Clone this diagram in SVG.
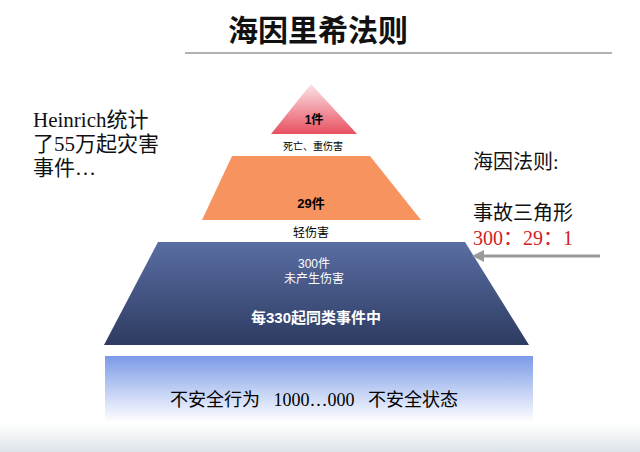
<svg xmlns="http://www.w3.org/2000/svg" width="640" height="452" viewBox="0 0 640 452">
<style>
.s{font-family:"Liberation Serif","Noto Sans CJK SC",serif}
.h{font-family:"Liberation Sans","Noto Sans CJK SC",sans-serif}
</style>
<defs>
<linearGradient id="gt" x1="0" y1="0" x2="0" y2="1"><stop offset="0" stop-color="#fbe4e8"/><stop offset="1" stop-color="#e8505f"/></linearGradient>
<linearGradient id="gb" x1="0" y1="0" x2="0" y2="1"><stop offset="0" stop-color="#5a6ea3"/><stop offset="1" stop-color="#2e3b62"/></linearGradient>
<linearGradient id="gf" x1="0" y1="0" x2="0" y2="1"><stop offset="0" stop-color="#7b9be8"/><stop offset="1" stop-color="#ffffff"/></linearGradient>
<linearGradient id="gfoot" x1="0" y1="0" x2="0" y2="1"><stop offset="0" stop-color="#ffffff"/><stop offset="1" stop-color="#dde3ea"/></linearGradient>
<marker id="ar" markerUnits="userSpaceOnUse" markerWidth="12" markerHeight="12" refX="2" refY="6" orient="auto"><path d="M0,0L12,6L0,12z" fill="#9a9a9a"/></marker>
</defs>
<rect width="640" height="452" fill="#fff"/>
<text x="318" y="41" text-anchor="middle" class="h" font-size="30" font-weight="bold" fill="#111">海因里希法则</text>
<line x1="185" y1="53" x2="612" y2="53" stroke="#999" stroke-width="1.5"/>
<g id="left" class="s" font-size="21" fill="#111"><text x="33" y="127">Heinrich统计</text><text x="33" y="151">了55万起灾害</text><text x="33" y="175">事件…</text></g>
<g id="right" class="s" font-size="20" fill="#111"><text x="473" y="169">海因法则:</text><text x="473" y="220">事故三角形</text><text x="473" y="245" fill="#d42020">300：29：1</text></g>
<g id="top"><path d="M311,84L357,134H271z" fill="url(#gt)"/><text x="314" y="124" text-anchor="middle" class="h" font-size="12" font-weight="bold">1件</text><text x="313" y="150" text-anchor="middle" class="s" font-size="10">死亡、重伤害</text></g>
<g id="mid"><path d="M232,156H370L421,220H202z" fill="#f7935f"/><text x="311" y="208" text-anchor="middle" class="h" font-size="13" font-weight="bold">29件</text><text x="311" y="237" text-anchor="middle" class="s" font-size="12">轻伤害</text></g>
<g id="base"><path d="M158,242H465L529,345H104z" fill="url(#gb)"/><text x="314" y="268" text-anchor="middle" class="h" font-size="12" fill="#fff">300件</text><text x="314" y="283" text-anchor="middle" class="h" font-size="12" fill="#fff">未产生伤害</text><text x="316" y="323" text-anchor="middle" class="h" font-size="15" font-weight="bold" fill="#fff">每330起同类事件中</text></g>
<g id="foundation"><rect x="105" y="356" width="428" height="66" fill="url(#gf)"/><text x="314" y="406" text-anchor="middle" class="s" font-size="18" xml:space="preserve">不安全行为   1000…000   不安全状态</text></g>
<rect x="0" y="424" width="640" height="28" fill="url(#gfoot)"/>
<g id="connectors"><line x1="600" y1="256" x2="482" y2="256" stroke="#9a9a9a" stroke-width="3" marker-end="url(#ar)"/></g>
</svg>
